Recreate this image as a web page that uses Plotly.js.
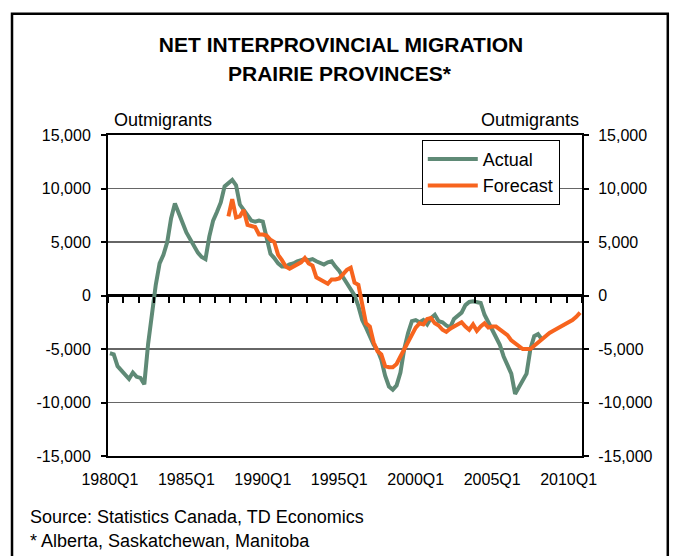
<!DOCTYPE html>
<html>
<head>
<meta charset="utf-8">
<script src="https://cdn.plot.ly/plotly-3.0.1.min.js"></script>
<style>html,body{margin:0;padding:0;background:#fff;}#chart{width:678px;height:556px;}</style>
</head>
<body>
<div id="chart"></div>
<script>
// Quarterly categories 1980Q1 .. 2010Q4
var startYear = 1980, nQuarters = 124;
var quarters = [];
for (var i = 0; i < nQuarters; i++) {
  quarters.push((startYear + Math.floor(i / 4)) + 'Q' + (i % 4 + 1));
}
var tickLabels = ['1980Q1','1985Q1','1990Q1','1995Q1','2000Q1','2005Q1','2010Q1'];
var yTicks = [-15000,-10000,-5000,0,5000,10000,15000];
var yTickText = ['-15,000','-10,000','-5,000','0','5,000','10,000','15,000'];

// Actual: 1980Q1 .. 2008Q2
var actualValues = [
  -5400,-5500,-6600,-7000,-7500,-7800,-7200,-7600,-7700,-8300,
  -4500,-1500,1000,3000,3800,5000,7200,8600,7600,6800,
  5900,5200,4500,4000,3600,3400,5500,7000,7800,8700,
  10200,10500,10800,10300,8500,8000,7500,7000,6900,7000,
  6900,5400,3900,3500,3000,2700,2700,2900,3000,3200,
  3300,3400,3300,3400,3200,3000,2900,3100,3200,2700,
  2300,1700,1100,500,0,-1000,-2300,-3000,-3900,-4600,
  -5100,-6000,-7500,-8500,-8800,-8400,-7200,-5000,-3500,-2400,
  -2300,-2500,-2300,-2700,-2100,-1800,-2400,-2500,-2800,-3000,
  -2200,-1900,-1600,-900,-600,-550,-600,-700,-1800,-2600,
  -3200,-3900,-4600,-5700,-6500,-7300,-9200,-8600,-8000,-7300,
  -5000,-3800,-3600,-4100
];
// Forecast: 1987Q4 .. 2010Q4
var forecastStart = '1987Q4';
var forecastValues = [
  7400,9000,7300,7400,8000,6600,6500,6400,5700,5700,
  5600,5200,5000,3800,3300,2700,2500,2700,2900,3100,
  3500,3000,2800,1700,1500,1300,1100,1500,1500,1600,
  2000,2400,2600,1200,1000,-1000,-2600,-2900,-4400,-5200,
  -5500,-6600,-6700,-6700,-6400,-5700,-5000,-4200,-3600,-3000,
  -2600,-2700,-2200,-2100,-2600,-2800,-3200,-3400,-3100,-2900,
  -2700,-2500,-2900,-3200,-2700,-3300,-2900,-2600,-3000,-2900,
  -2900,-3200,-3400,-3700,-4200,-4500,-4800,-5000,-5000,-5000,
  -4700,-4400,-4000,-3800,-3500,-3300,-3100,-2900,-2800,-2600,
  -2300,-2000,-1600
];

var actualX = quarters.slice(0, actualValues.length);
var fStart = quarters.indexOf(forecastStart);
var forecastX = quarters.slice(fStart, fStart + forecastValues.length);

var FONT = 'Liberation Sans, Arial, sans-serif';

var traces = [
  {x: actualX, y: actualValues, name: 'Actual', type: 'scatter', mode: 'lines',
   line: {color: '#5f8a76', width: 4}},
  {x: forecastX, y: forecastValues, name: 'Forecast', type: 'scatter', mode: 'lines',
   line: {color: '#f7641e', width: 4}},
  {x: [], y: [], xaxis: 'x2', yaxis: 'y2', showlegend: false, hoverinfo: 'skip', type: 'scatter', mode: 'lines'}
];

var layout = {
  width: 678, height: 556,
  margin: {l: 108, r: 96, t: 135, b: 100},
  paper_bgcolor: '#fff', plot_bgcolor: '#fff',
  font: {family: FONT, color: '#000', size: 16},
  showlegend: true,
  title: {text: '<b>NET INTERPROVINCIAL MIGRATION</b>', font: {family: FONT, size: 21, color: '#000'},
          x: 0.503, xanchor: 'center', y: 0.919, yanchor: 'middle'},
  legend: {x: 0.662, xanchor: 'left', y: 0.985, yanchor: 'top', bgcolor: '#fff',
           bordercolor: '#000', borderwidth: 1, font: {family: FONT, size: 18, color: '#000'},
           itemwidth: 50, tracegroupgap: 0},
  xaxis: {type: 'category', range: [-0.5, nQuarters - 0.5], tickmode: 'array', tickvals: tickLabels,
          ticktext: tickLabels, ticks: '', showgrid: false, zeroline: false,
          showline: true, linecolor: '#000', linewidth: 2, mirror: true, ticklabelstandoff: 8,
          tickfont: {family: FONT, size: 16, color: '#000'}},
  xaxis2: {overlaying: 'x', anchor: 'free', position: 0.5, type: 'linear',
           range: [-0.5, nQuarters - 0.5], tickmode: 'linear', tick0: -0.5, dtick: 4,
           ticks: 'outside', ticklen: 6, tickwidth: 2, tickcolor: '#000',
           showticklabels: false, showgrid: false, zeroline: false, showline: false},
  yaxis: {range: [-15000, 15000], tickmode: 'array', tickvals: yTicks, ticktext: yTickText,
          ticks: 'outside', ticklen: 5, tickwidth: 2, tickcolor: '#000',
          showline: true, linecolor: '#000', linewidth: 2,
          showgrid: true, gridcolor: '#666', gridwidth: 1.3,
          zeroline: true, zerolinecolor: '#000', zerolinewidth: 2.5,
          tickfont: {family: FONT, size: 16, color: '#000'}, ticklabelstandoff: 7},
  yaxis2: {overlaying: 'y', side: 'right', anchor: 'x', range: [-15000, 15000], tickmode: 'array',
           tickvals: yTicks, ticktext: yTickText, ticks: 'outside', ticklen: 5, tickwidth: 2,
           tickcolor: '#000', showline: true, linecolor: '#000', linewidth: 2,
           showgrid: false, zeroline: false,
           tickfont: {family: FONT, size: 16, color: '#000'}, ticklabelstandoff: 6},
  annotations: [
    {text: '<b>PRAIRIE PROVINCES*</b>', xref: 'paper', yref: 'paper', x: 0.49, y: 1.193,
     xanchor: 'center', yanchor: 'middle', showarrow: false, font: {family: FONT, size: 21, color: '#000'}},
    {text: 'Outmigrants', xref: 'paper', yref: 'paper', x: 0.008, y: 1.047,
     xanchor: 'left', yanchor: 'middle', showarrow: false, font: {family: FONT, size: 18, color: '#000'}},
    {text: 'Outmigrants', xref: 'paper', yref: 'paper', x: 0.998, y: 1.047,
     xanchor: 'right', yanchor: 'middle', showarrow: false, font: {family: FONT, size: 18, color: '#000'}},
    {text: 'Source: Statistics Canada, TD Economics', xref: 'paper', yref: 'paper', x: -0.168, y: -0.19,
     xanchor: 'left', yanchor: 'middle', showarrow: false, font: {family: FONT, size: 18, color: '#000'}},
    {text: '* Alberta, Saskatchewan, Manitoba', xref: 'paper', yref: 'paper', x: -0.168, y: -0.265,
     xanchor: 'left', yanchor: 'middle', showarrow: false, font: {family: FONT, size: 18, color: '#000'}}
  ],
  shapes: [
    {type: 'rect', xref: 'paper', yref: 'paper', x0: -0.2025, x1: 1.181, y0: -0.35, y1: 1.378,
     line: {color: '#000', width: 2.5}, fillcolor: 'rgba(0,0,0,0)', layer: 'below'}
  ]
};

Plotly.newPlot('chart', traces, layout, {displayModeBar: false, staticPlot: true});
</script>
</body>
</html>
